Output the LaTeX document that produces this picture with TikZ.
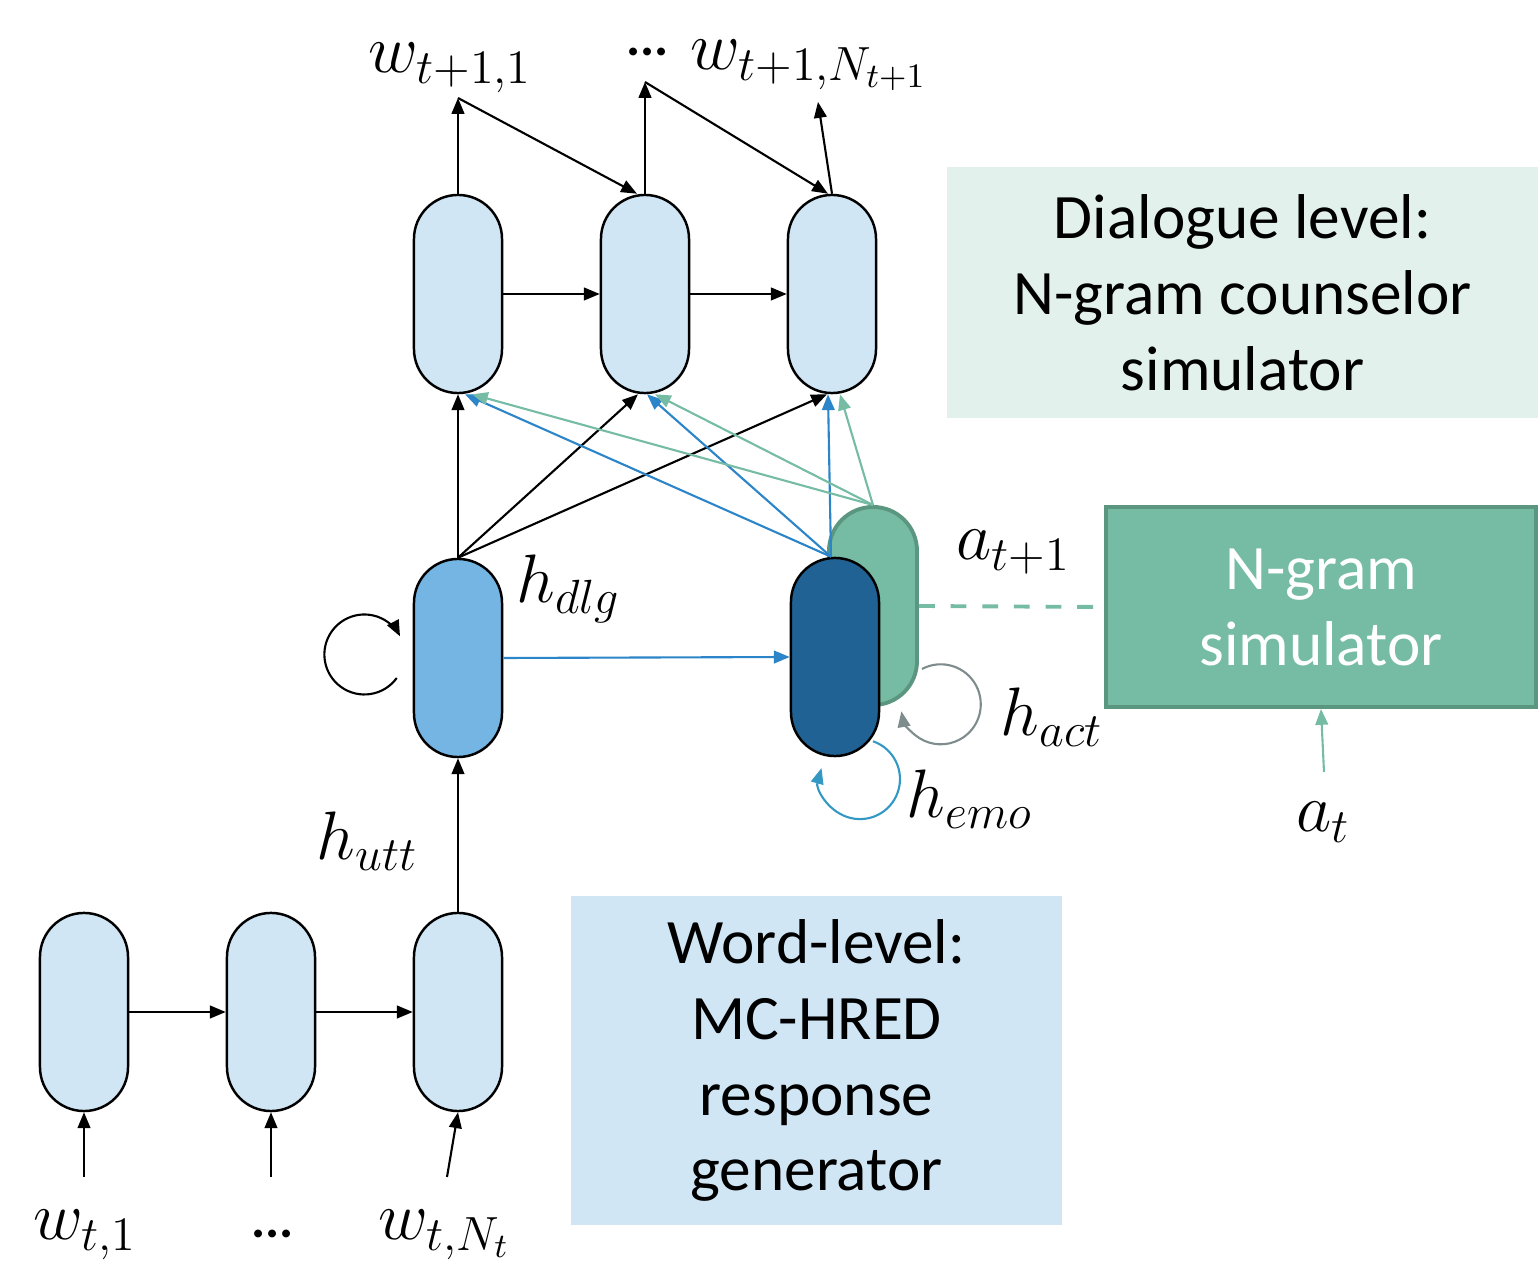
\RequirePackage{fix-cm}
\documentclass[tikz,border=0pt]{standalone}
\usepackage{fontspec}
\newfontfamily\boxfont{Carlito}
\usetikzlibrary{arrows.meta}

\definecolor{cellblue}{RGB}{208,230,245}
\definecolor{dlgblue}{RGB}{117,181,227}
\definecolor{emoblue}{RGB}{31,98,147}
\definecolor{actgreen}{RGB}{118,188,165}
\definecolor{actedge}{RGB}{91,150,128}
\definecolor{dlgpale}{RGB}{226,241,236}
\definecolor{linkblue}{RGB}{43,133,200}
\definecolor{loopblue}{RGB}{51,153,196}
\definecolor{loopgray}{RGB}{127,140,141}

\tikzset{
  cell/.style={draw, line width=0.7pt, fill=cellblue, minimum width=0.88cm,
    minimum height=1.98cm, rounded corners=0.44cm, inner sep=0pt},
  lbl/.style={font=\fontsize{19.5}{23}\selectfont, inner sep=0pt, anchor=base west},
  dotlbl/.style={font=\boxfont\bfseries\fontsize{15}{18}\selectfont, inner sep=0pt, anchor=base west},
  boxtext/.style={font=\boxfont\fontsize{18}{21.6}\selectfont, align=center, inner sep=0pt},
  link/.style={-{Triangle[length=4.5pt,width=3.6pt]}, line width=0.6pt},
  bluelink/.style={link, draw=linkblue},
  greenlink/.style={link, draw=actgreen}
}

\begin{document}
\begin{tikzpicture}[x=0.01cm, y=-0.01cm]
    \useasboundingbox (0,0) rectangle (1538,1267);

    % Shaded boxes with the level captions
    \node[boxtext, fill=dlgpale, minimum width=5.91cm, minimum height=2.51cm] (dlgbox) at (1242.5,292.5) {Dialogue level:\\N-gram counselor\\simulator};
    \node[boxtext, fill=cellblue, minimum width=4.91cm, minimum height=3.29cm] (wordbox) at (816.5,1060.5) {Word-level:\\MC-HRED\\response\\generator};
    \node[boxtext, fill=actgreen, draw=actedge, line width=1.1pt, text=white, minimum width=4.3cm, minimum height=2cm] (ngram) at (1321,607) {N-gram\\simulator};

    % Word-level encoder cells (bottom row)
    \node[cell] (enc1) at (84,1012) {};
    \node[cell] (enc2) at (271,1012) {};
    \node[cell] (enc3) at (458,1012) {};
    % Decoder cells (top row)
    \node[cell] (dec1) at (458,294) {};
    \node[cell] (dec2) at (645,294) {};
    \node[cell] (dec3) at (832,294) {};
    % Dialogue, act and emotion states
    \node[cell, fill=dlgblue] (dlg) at (458,658) {};
    \node[cell, fill=actgreen, draw=actedge, line width=1.1pt] (act) at (873,606) {};
    \node[cell, fill=emoblue] (emo) at (835,657) {};

    % Free ends of the input and output arrows
    \coordinate (in1) at (84,1177);
    \coordinate (in2) at (271,1177);
    \coordinate (in3) at (447,1177);
    \coordinate (out1) at (458,98);
    \coordinate (out2) at (645,82);
    \coordinate (out3) at (818,102);
    \coordinate (ain) at (1324,772);

    % Encoder: inputs and recurrence
    \draw[link] (in1) -- (enc1.south);
    \draw[link] (in2) -- (enc2.south);
    \draw[link] (in3) -- (enc3.south);
    \draw[link] (enc1.east) -- (enc2.west);
    \draw[link] (enc2.east) -- (enc3.west);
    \draw[link] (enc3.north) -- (dlg.south);

    % Dialogue state: self loop and links up to the decoder
    \draw[link] ([shift={(-16,20)}]dlg.west) arc[start angle=36, end angle=333, radius=40];
    \draw[link] (dlg.north) -- (dec1.south);
    \draw[link] (dlg.north) -- ([shift={(-7,0)}]dec2.south);
    \draw[link] (dlg.north) -- ([shift={(-5,0)}]dec3.south);
    \draw[bluelink] (dlg.east) -- (emo.west);

    % Emotion state links
    \draw[bluelink] ([shift={(-4,0)}]emo.north) -- ([shift={(7,0)}]dec1.south);
    \draw[bluelink] ([shift={(-4,0)}]emo.north) -- ([shift={(2,0)}]dec2.south);
    \draw[bluelink] ([shift={(-4,0)}]emo.north) -- ([shift={(-4,0)}]dec3.south);
    \draw[link, draw=loopblue] ([shift={(38,-16)}]emo.south) arc[start angle=289, end angle=556, radius=40];

    % Act state links
    \draw[greenlink] (act.north) -- ([shift={(14,0)}]dec1.south);
    \draw[greenlink] (act.north) -- ([shift={(10,0)}]dec2.south);
    \draw[greenlink] (act.north) -- ([shift={(8,0)}]dec3.south);
    \draw[link, draw=loopgray] ([shift={(49,-38)}]act.south) arc[start angle=242, end angle=530, radius=40];
    \draw[draw=actgreen, line width=1.1pt, dash pattern=on 4.5pt off 4.5pt] (act.east) -- (ngram.west);
    \draw[greenlink] (ain) -- (ngram.south);

    % Decoder: recurrence and outputs
    \draw[link] (dec1.east) -- (dec2.west);
    \draw[link] (dec2.east) -- (dec3.west);
    \draw[link] (dec1.north) -- (out1);
    \draw[link] (out1) -- ([shift={(-8,0)}]dec2.north);
    \draw[link] (dec2.north) -- (out2);
    \draw[link] (out2) -- ([shift={(-4,0)}]dec3.north);
    \draw[link] (dec3.north) -- (out3);

    % Labels
    \node[lbl] (lw1) at (368,73) {$w_{t+1,1}$};
    \node[dotlbl] (loutdots) at (626,56) {...};
    \node[lbl] (lwn) at (690,70) {$w_{t+1,N_{t+1}}$};
    \node[lbl] (ldlg) at (516,603) {$h_{dlg}$};
    \node[lbl] (lutt) at (316,860) {$h_{utt}$};
    \node[lbl] (lanext) at (956,560) {$a_{t+1}$};
    \node[lbl] (lact) at (1000,736) {$h_{act}$};
    \node[lbl] (lemo) at (906,818) {$h_{emo}$};
    \node[lbl] (lat) at (1296,832) {$a_t$};
    \node[lbl] (lin1) at (33,1240) {$w_{t,1}$};
    \node[dotlbl] (lindots) at (251,1238) {...};
    \node[lbl] (linn) at (378,1240) {$w_{t,N_t}$};

\end{tikzpicture}
\end{document}
